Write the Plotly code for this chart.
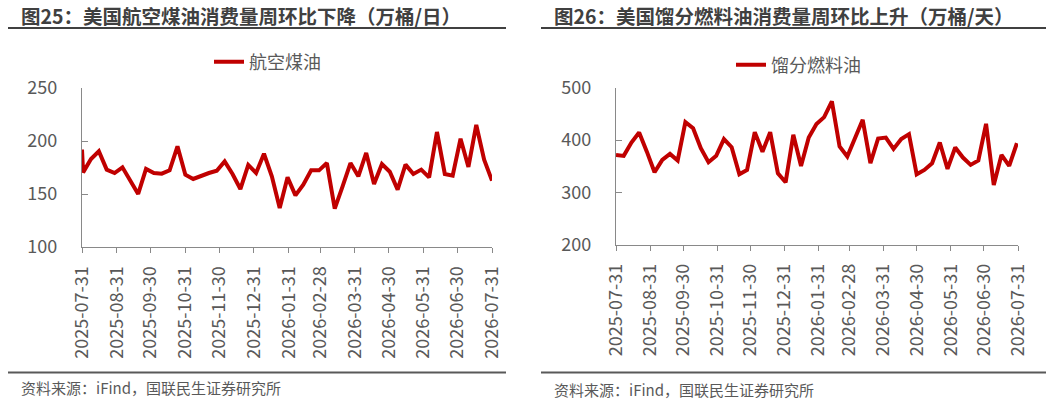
import pandas as pd
import plotly.graph_objs as go

# 图25 航空煤油 (万桶/日), weekly
jet_dates = ['2025-07-31'] + [d.strftime('%Y-%m-%d') for d in pd.date_range('2025-08-01', periods=53, freq='7D')]
jet_fuel = [192, 170.4, 183, 190.3, 173, 169.8, 175.2, 162.6, 150, 173.6, 169.8,
            169.2, 172.3, 195, 168.2, 164.2, 167.3, 169.8, 172, 180.8, 168.9,
            154.7, 177.4, 169.8, 188, 166.7, 136.8, 165.7, 148.7, 158.8, 172.3,
            172.3, 179.2, 136.2, 157.2, 179.2, 166.7, 188.7, 159.4, 178.3, 171,
            154.1, 177.7, 168.9, 173, 165.7, 208.5, 168.9, 167.3, 202.2, 175.5,
            215.1, 182.4, 162.6]

# 图26 馏分燃料油 (万桶/天), weekly
dist_dates = [d.strftime('%Y-%m-%d') for d in pd.date_range('2025-07-31', periods=53, freq='7D')]
distillate = [371.8, 369.9, 395.5, 414.7, 378, 338.5, 362.2, 373.7, 361, 434.6,
              423, 384.6, 357.7, 370, 402, 386.5, 334.6, 343, 415.4, 378,
              415.4, 336.5, 319.2, 410.3, 350.6, 405, 430.8, 444.2, 474.4, 387.8,
              368.6, 403.8, 439, 355.8, 403.2, 405, 383.3, 402, 411.5, 334.6,
              343, 355.8, 395.5, 344.9, 385.9, 366.7, 352.6, 361, 431.4, 314,
              371.8, 350.6, 394.2]

# month-end tick labels
tick_dates = ['2025-07-31', '2025-08-31', '2025-09-30', '2025-10-31', '2025-11-30',
              '2025-12-31', '2026-01-31', '2026-02-28', '2026-03-31', '2026-04-30',
              '2026-05-31', '2026-06-30', '2026-07-31']

titles = ['图25：美国航空煤油消费量周环比下降（万桶/日）',
          '图26：美国馏分燃料油消费量周环比上升（万桶/天）']
source = '资料来源：iFind，国联民生证券研究所'

W, H = 1050, 406
FONT = 'Noto Sans CJK SC'
RED = '#C00000'
AXIS = '#898989'
TXT = '#595959'


def px(x):
    return x / W


def py(y):
    return 1 - y / H


data = [
    go.Scatter(x=jet_dates, y=jet_fuel, mode='lines', name='航空煤油',
               line=dict(color=RED, width=4), xaxis='x', yaxis='y', legend='legend'),
    go.Scatter(x=dist_dates, y=distillate, mode='lines', name='馏分燃料油',
               line=dict(color=RED, width=4), xaxis='x2', yaxis='y2', legend='legend2'),
]

xcommon = dict(type='date', range=['2025-07-31', '2026-07-31'], tickvals=tick_dates,
               ticktext=tick_dates, tickangle=-90, showgrid=False, zeroline=False,
               showline=True, linecolor=AXIS, linewidth=1.3, ticks='outside',
               ticklen=5, tickcolor=AXIS, tickfont=dict(size=18, color=TXT),
               ticklabelstandoff=6, automargin=False)
ycommon = dict(showgrid=False, zeroline=False, showline=True, linecolor=AXIS,
               linewidth=1.3, ticks='inside', ticklen=6, tickcolor=AXIS,
               tickfont=dict(size=18, color=TXT), ticklabelstandoff=20, automargin=False)

legcommon = dict(bgcolor='rgba(0,0,0,0)', font=dict(size=18, color=TXT, family=FONT),
                 xanchor='left', yanchor='middle', itemwidth=30)

layout = go.Layout(
    width=W, height=H, margin=dict(l=0, r=0, t=0, b=0, autoexpand=False),
    paper_bgcolor='white', plot_bgcolor='white',
    font=dict(family=FONT, color=TXT),
    xaxis=dict(xcommon, domain=[px(82), px(492)], anchor='y'),
    yaxis=dict(ycommon, domain=[py(247), py(88)], range=[100, 250], dtick=50, anchor='x'),
    xaxis2=dict(xcommon, domain=[px(616), px(1018)], anchor='y2'),
    yaxis2=dict(ycommon, domain=[py(244.5), py(88)], range=[200, 500], dtick=100, anchor='x2'),
    legend=dict(legcommon, x=px(209), y=py(62)),
    legend2=dict(legcommon, x=px(731), y=py(65)),
    showlegend=True,
    annotations=[
        dict(text='<b>%s</b>' % titles[0], x=px(19), y=py(16), xref='paper', yref='paper',
             xanchor='left', yanchor='middle', showarrow=False,
             font=dict(size=19.5, color='#404040')),
        dict(text='<b>%s</b>' % titles[1], x=px(552), y=py(16), xref='paper', yref='paper',
             xanchor='left', yanchor='middle', showarrow=False,
             font=dict(size=19.5, color='#404040')),
        dict(text=source, x=px(19), y=py(387), xref='paper', yref='paper',
             xanchor='left', yanchor='middle', showarrow=False,
             font=dict(size=15, color=TXT)),
        dict(text=source, x=px(552), y=py(389), xref='paper', yref='paper',
             xanchor='left', yanchor='middle', showarrow=False,
             font=dict(size=15, color=TXT)),
    ],
    shapes=[
        dict(type='line', xref='paper', yref='paper', x0=px(8), x1=px(506), y0=py(28), y1=py(28),
             line=dict(color='#404040', width=2)),
        dict(type='line', xref='paper', yref='paper', x0=px(541), x1=px(1046), y0=py(28), y1=py(28),
             line=dict(color='#404040', width=2)),
        dict(type='line', xref='paper', yref='paper', x0=px(8), x1=px(506), y0=py(372.5), y1=py(372.5),
             line=dict(color='#595959', width=2)),
        dict(type='line', xref='paper', yref='paper', x0=px(541), x1=px(1046), y0=py(372.5), y1=py(372.5),
             line=dict(color='#595959', width=2)),
    ],
)

fig = go.Figure(data=data, layout=layout)
# drop the browser's default 8px body margin so the figure sits at the page origin
fig.write_html('out.html', config={'displayModeBar': False},
               post_script="document.body.style.margin='0';")
